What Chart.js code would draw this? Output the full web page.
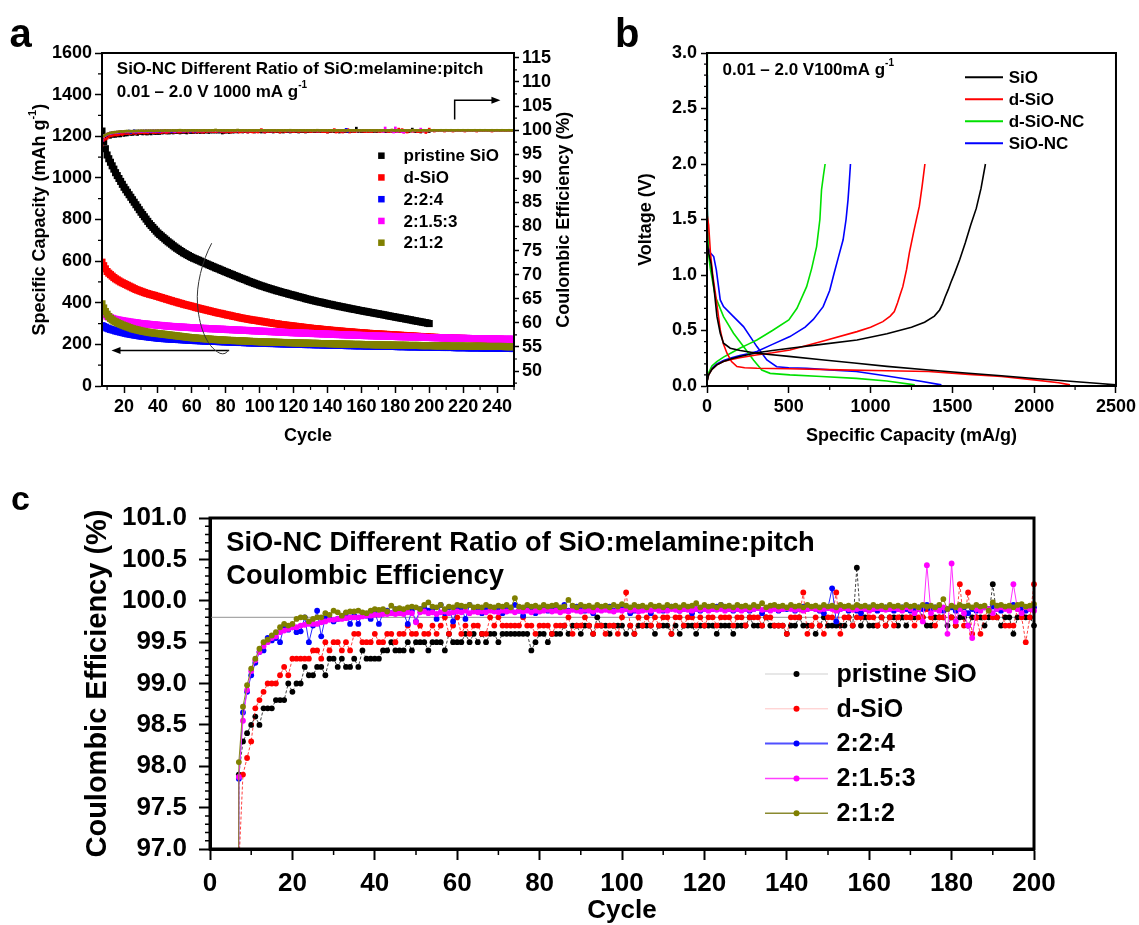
<!DOCTYPE html>
<html>
<head>
<meta charset="utf-8">
<script src="https://cdn.jsdelivr.net/npm/chart.js@4.4.1/dist/chart.umd.min.js"></script>
<style>
  html, body { margin: 0; padding: 0; background: #fff; }
  body { width: 1139px; height: 925px; position: relative; overflow: hidden; }
  canvas { position: absolute; }
  #chartA { left: 0; top: 0; }
  #chartB { left: 578px; top: 0; }
  #chartC { left: 0; top: 460px; }
</style>
</head>
<body>
<canvas id="chartA" width="578" height="452"></canvas>
<canvas id="chartB" width="561" height="452"></canvas>
<canvas id="chartC" width="1139" height="465"></canvas>
<script>
// ---------- data ----------
const seriesNames = ['pristine SiO', 'd-SiO', '2:2:4', '2:1.5:3', '2:1:2'];

// specific capacity (mAh/g), one value per cycle, first value = cycle 7
const capFirstCycle = 7;
const capBlack = [
  1225, 1175, 1140, 1110, 1092, 1075, 1058, 1042, 1025, 1011,
  997, 983, 969, 955, 943, 931, 919, 907, 895, 883,
  871, 859, 847, 835, 824, 813, 802, 791, 780, 771,
  762, 753, 744, 735, 728, 721, 714, 707, 700, 693,
  687, 681, 674, 668, 662, 657, 651, 646, 640, 636,
  631, 627, 622, 618, 614, 611, 607, 604, 600, 596,
  593, 589, 586, 582, 579, 575, 572, 568, 565, 562,
  558, 555, 551, 548, 545, 541, 538, 535, 531, 528,
  525, 521, 518, 515, 512, 509, 505, 502, 499, 496,
  493, 490, 487, 484, 481, 479, 476, 473, 471, 468,
  466, 463, 461, 458, 456, 454, 451, 449, 447, 445,
  442, 440, 438, 436, 434, 431, 429, 427, 425, 423,
  420, 418, 416, 414, 412, 410, 408, 406, 404, 403,
  401, 399, 397, 395, 393, 392, 390, 388, 386, 385,
  383, 381, 380, 378, 376, 375, 373, 371, 370, 368,
  367, 365, 363, 362, 360, 359, 357, 356, 354, 353,
  351, 350, 348, 347, 345, 344, 342, 341, 339, 337,
  336, 334, 333, 331, 330, 328, 327, 325, 324, 322,
  321, 319, 318, 316, 314, 313, 311, 310, 308, 307,
  305, 304, 302, 300
];
const capRed = [
  595, 578, 563, 550, 542, 535, 528, 521, 515, 510,
  505, 500, 496, 492, 488, 484, 480, 476, 472, 468,
  464, 461, 458, 455, 452, 449, 446, 444, 441, 439,
  437, 435, 432, 430, 427, 425, 422, 420, 417, 415,
  412, 410, 407, 405, 403, 400, 398, 396, 393, 391,
  389, 387, 385, 383, 381, 378, 376, 374, 372, 370,
  368, 366, 364, 362, 360, 358, 356, 354, 352, 350,
  349, 347, 345, 343, 341, 340, 338, 336, 334, 333,
  331, 329, 327, 326, 324, 323, 321, 320, 318, 317,
  316, 315, 313, 312, 311, 309, 308, 307, 305, 304,
  303, 301, 300, 299, 298, 296, 295, 294, 293, 292,
  291, 290, 289, 288, 287, 286, 285, 284, 283, 282,
  281, 280, 279, 278, 277, 276, 275, 275, 274, 273,
  272, 271, 270, 270, 269, 268, 267, 267, 266, 265,
  264, 264, 263, 262, 262, 261, 260, 260, 259, 258,
  258, 257, 256, 256, 255, 255, 254, 253, 253, 252,
  252, 251, 251, 250, 250, 249, 249, 248, 248, 247,
  247, 246, 246, 245, 245, 244, 244, 243, 243, 242,
  242, 241, 241, 240, 240, 239, 239, 238, 238, 237,
  237, 236, 236, 235, 235, 234, 234, 234, 233, 233,
  233, 232, 232, 232, 231, 231, 231, 230, 230, 230,
  229, 229, 229, 229, 228, 228, 228, 228, 227, 227,
  227, 227, 226, 226, 226, 226, 226, 225, 225, 225,
  225, 225, 224, 224, 224, 224, 224, 223, 223, 223,
  223, 223, 222, 222
];
const capBlue = [
  290, 286, 282, 278, 275, 272, 270, 268, 265, 263,
  261, 259, 257, 255, 253, 251, 250, 248, 247, 245,
  244, 243, 241, 240, 239, 238, 237, 236, 235, 234,
  233, 232, 231, 230, 229, 229, 228, 227, 227, 226,
  226, 225, 225, 224, 224, 223, 223, 222, 222, 221,
  221, 220, 220, 219, 219, 218, 218, 218, 217, 217,
  216, 216, 216, 215, 215, 215, 214, 214, 214, 213,
  213, 213, 212, 212, 212, 211, 211, 211, 210, 210,
  210, 209, 209, 209, 208, 208, 208, 207, 207, 207,
  207, 206, 206, 206, 206, 205, 205, 205, 205, 204,
  204, 204, 204, 203, 203, 203, 203, 202, 202, 202,
  202, 201, 201, 201, 201, 200, 200, 200, 200, 200,
  199, 199, 199, 199, 199, 198, 198, 198, 198, 198,
  197, 197, 197, 197, 196, 196, 196, 196, 196, 195,
  195, 195, 195, 195, 194, 194, 194, 194, 194, 193,
  193, 193, 193, 193, 193, 192, 192, 192, 192, 192,
  191, 191, 191, 191, 191, 191, 190, 190, 190, 190,
  190, 190, 190, 190, 189, 189, 189, 189, 189, 189,
  188, 188, 188, 188, 188, 188, 188, 187, 187, 187,
  187, 187, 187, 187, 186, 186, 186, 186, 186, 186,
  186, 185, 185, 185, 185, 185, 185, 185, 184, 184,
  184, 184, 184, 184, 184, 184, 183, 183, 183, 183,
  183, 183, 183, 183, 182, 182, 182, 182, 182, 182,
  182, 182, 182, 181, 181, 181, 181, 181, 181, 181,
  181, 181, 180, 180
];
const capMagenta = [
  365, 350, 342, 335, 331, 328, 325, 322, 320, 318,
  317, 315, 314, 312, 311, 310, 308, 307, 306, 305,
  304, 303, 301, 300, 299, 298, 298, 297, 296, 295,
  294, 294, 293, 292, 291, 291, 290, 289, 288, 288,
  287, 286, 286, 285, 285, 284, 284, 283, 283, 282,
  282, 281, 281, 280, 280, 279, 279, 278, 278, 277,
  277, 277, 276, 276, 275, 275, 275, 274, 274, 273,
  273, 273, 272, 272, 271, 271, 271, 270, 270, 269,
  269, 269, 268, 268, 267, 267, 267, 266, 266, 265,
  265, 265, 264, 264, 263, 263, 263, 262, 262, 261,
  261, 261, 260, 260, 259, 259, 259, 258, 258, 257,
  257, 257, 256, 256, 256, 255, 255, 255, 254, 254,
  254, 253, 253, 253, 252, 252, 252, 251, 251, 251,
  250, 250, 250, 249, 249, 249, 248, 248, 248, 247,
  247, 247, 246, 246, 246, 245, 245, 245, 245, 244,
  244, 244, 243, 243, 243, 242, 242, 242, 242, 241,
  241, 241, 240, 240, 240, 240, 239, 239, 239, 239,
  238, 238, 238, 238, 237, 237, 237, 237, 236, 236,
  236, 236, 235, 235, 235, 235, 235, 234, 234, 234,
  234, 233, 233, 233, 233, 232, 232, 232, 232, 232,
  231, 231, 231, 231, 231, 230, 230, 230, 230, 230,
  230, 229, 229, 229, 229, 229, 229, 228, 228, 228,
  228, 228, 228, 227, 227, 227, 227, 227, 227, 226,
  226, 226, 226, 226, 226, 226, 225, 225, 225, 225,
  225, 225, 225, 224
];
const capOlive = [
  395, 375, 358, 345, 334, 325, 318, 312, 308, 304,
  300, 297, 293, 290, 287, 284, 281, 278, 275, 273,
  271, 269, 267, 265, 263, 262, 260, 259, 257, 256,
  255, 254, 253, 252, 251, 250, 249, 248, 247, 246,
  245, 244, 243, 242, 241, 240, 239, 238, 237, 236,
  235, 234, 233, 232, 231, 231, 230, 229, 229, 228,
  227, 227, 226, 226, 225, 224, 224, 223, 223, 222,
  222, 221, 221, 220, 220, 219, 219, 219, 218, 218,
  218, 217, 217, 217, 216, 216, 215, 215, 214, 214,
  214, 213, 213, 213, 212, 212, 212, 212, 211, 211,
  211, 211, 210, 210, 210, 210, 209, 209, 209, 209,
  208, 208, 208, 208, 207, 207, 207, 207, 206, 206,
  206, 206, 206, 205, 205, 205, 205, 205, 204, 204,
  204, 204, 204, 204, 203, 203, 203, 203, 202, 202,
  202, 202, 202, 201, 201, 201, 201, 201, 200, 200,
  200, 200, 200, 200, 199, 199, 199, 199, 199, 199,
  198, 198, 198, 198, 198, 198, 197, 197, 197, 197,
  197, 197, 197, 196, 196, 196, 196, 196, 196, 196,
  195, 195, 195, 195, 195, 195, 195, 195, 194, 194,
  194, 194, 194, 194, 194, 194, 193, 193, 193, 193,
  193, 193, 193, 193, 193, 192, 192, 192, 192, 192,
  192, 192, 192, 192, 192, 191, 191, 191, 191, 191,
  191, 191, 191, 191, 191, 191, 190, 190, 190, 190,
  190, 190, 190, 190, 190, 190, 190, 190, 189, 189,
  189, 189, 189, 189
];

// coulombic efficiency (%), one value per cycle, first value = cycle 6
const ceFirstCycle = 6;
const ceBlack = [
  75, 97.9, 98.3, 98.4, 98.5, 98.6, 98.5, 98.7, 98.7, 98.7,
  98.8, 98.8, 98.8, 99.0, 98.9, 99.0, 99.0, 99.2, 99.1, 99.1,
  99.2, 99.2, 99.1, 99.3, 99.3, 99.2, 99.3, 99.2, 99.2, 99.3,
  99.2, 99.4, 99.3, 99.3, 99.3, 99.3, 99.4, 99.4, 99.5, 99.4,
  99.4, 99.4, 99.5, 99.4, 99.5, 99.5, 99.5, 99.4, 99.5, 99.5,
  99.5, 99.4, 99.6, 99.5, 99.5, 99.5, 99.6, 99.5, 99.6, 99.5,
  99.6, 99.5, 99.6, 99.6, 99.5, 99.6, 99.6, 99.6, 99.6, 99.6,
  99.6, 99.6, 99.4, 99.5, 99.6, 99.6, 99.5, 99.6, 99.6, 99.6,
  99.7, 99.6, 99.7, 99.7, 99.6, 99.7, 99.7, 99.6, 99.8, 99.7,
  99.7, 99.6, 99.7, 99.7, 99.7, 99.6, 99.7, 99.6, 99.7, 99.7,
  99.7, 99.7, 99.6, 99.7, 99.7, 99.7, 99.6, 99.7, 99.6, 99.7,
  99.7, 99.7, 99.6, 99.7, 99.7, 99.7, 99.7, 99.6, 99.7, 99.7,
  99.7, 99.6, 99.7, 99.7, 99.7, 99.8, 99.7, 99.7, 99.7, 99.8,
  99.7, 99.7, 99.7, 99.7, 99.6, 99.7, 99.7, 99.8, 99.7, 99.7,
  99.7, 99.6, 99.7, 99.8, 99.7, 99.7, 99.7, 99.7, 99.7, 99.8,
  99.7, 100.4, 99.7, 99.8, 99.7, 99.7, 99.7, 99.8, 99.7, 99.8,
  99.8, 99.7, 99.8, 99.7, 99.8, 99.8, 99.9, 99.8, 99.7, 99.7,
  99.8, 99.8, 99.8, 99.7, 99.8, 99.7, 99.8, 99.8, 99.7, 99.8,
  99.8, 99.8, 99.7, 99.8, 100.2, 99.8, 99.7, 99.8, 99.8, 99.6,
  99.8, 99.9, 99.8, 99.8, 99.7
];
const ceRed = [
  75, 96.8, 97.9, 98.1, 98.3, 98.7, 98.8, 98.9, 99.0, 99.0,
  99.0, 99.1, 99.2, 99.1, 99.3, 99.3, 99.3, 99.3, 99.3, 99.4,
  99.4, 99.3, 99.5, 99.4, 99.5, 99.5, 99.4, 99.5, 99.4, 99.6,
  99.6, 99.5, 99.5, 99.5, 99.6, 99.5, 99.5, 99.6, 99.6, 99.5,
  99.6, 99.6, 99.7, 99.6, 99.6, 99.7, 99.6, 99.6, 99.7, 99.6,
  99.7, 99.8, 99.6, 99.7, 99.8, 99.6, 99.7, 99.6, 99.7, 99.7,
  99.6, 99.6, 99.8, 99.7, 99.8, 99.7, 99.7, 99.7, 99.7, 99.7,
  99.8, 99.7, 99.7, 99.6, 99.7, 99.7, 99.7, 99.6, 99.7, 99.7,
  99.7, 99.8, 99.6, 99.7, 99.7, 99.8, 99.7, 99.6, 99.7, 99.7,
  99.6, 99.7, 99.7, 99.6, 99.8, 100.1, 99.7, 99.6, 99.8, 99.7,
  99.8, 99.7, 99.8, 99.7, 99.8, 99.8, 99.6, 99.8, 99.8, 99.7,
  99.8, 99.8, 99.7, 99.8, 99.7, 99.8, 99.8, 99.7, 99.8, 99.8,
  99.8, 99.7, 99.8, 99.8, 99.7, 99.8, 99.8, 99.8, 99.7, 99.8,
  99.8, 99.7, 99.7, 99.7, 99.6, 99.8, 99.8, 99.8, 100.1, 99.6,
  99.7, 99.8, 99.7, 99.6, 99.8, 99.8, 100.1, 99.6, 99.8, 99.8,
  99.7, 99.8, 99.8, 99.9, 99.8, 99.8, 99.7, 99.8, 99.7, 99.8,
  99.7, 99.8, 99.9, 99.8, 99.8, 99.7, 99.8, 99.8, 99.9, 99.8,
  99.7, 99.8, 99.8, 99.9, 99.8, 99.7, 100.2, 99.7, 100.1, 99.6,
  99.8, 99.6, 99.8, 99.9, 99.8, 99.8, 99.9, 99.7, 99.7, 99.7,
  99.9, 99.8, 99.5, 99.8, 100.2, 99.9, 99.9, 99.8, 99.9, 99.9,
  99.9, 99.9, 99.9, 99.8, 99.9, 99.9, 99.9, 99.9, 99.8, 99.9,
  99.9, 99.9, 99.9, 99.9, 99.9, 99.8, 99.9, 99.9, 99.9, 99.9,
  99.9, 99.9, 99.8, 99.9, 99.9, 99.9, 99.9, 99.9, 99.9, 99.9,
  99.9, 99.8, 99.9, 99.9, 99.9, 99.9, 99.9, 99.9, 99.9, 99.9,
  99.9, 99.9, 99.9, 99.9, 99.9
];
const ceBlue = [
  75, 97.85, 98.65, 98.9, 99.1, 99.25, 99.38, 99.4, 99.55, 99.52,
  99.55, 99.5, 99.7, 99.65, 99.68, 99.62, 99.63, 99.8, 99.5, 99.7,
  99.88, 99.57, 99.8, 99.78, 99.75, 99.78, 99.8, 99.85, 99.72, 99.82,
  99.72, 99.85, 99.82, 99.78, 99.85, 99.72, 99.85, 99.88, 99.85, 99.9,
  99.88, 99.85, 99.72, 99.88, 99.75, 99.9, 99.92, 99.88, 99.9, 99.78,
  99.95, 99.85, 99.92, 99.75, 99.9, 99.92, 99.78, 99.95, 99.88, 99.9,
  99.85, 99.9, 99.92, 99.88, 99.9, 99.85, 99.92, 99.9, 99.95, 99.88,
  99.82, 99.9, 99.92, 99.85, 99.9, 99.93, 99.88, 99.9, 99.92, 99.9,
  99.95, 99.88, 99.9, 99.93, 99.92, 99.88, 99.9, 99.85, 99.92, 99.9,
  99.9, 99.93, 99.88, 99.9, 99.92, 99.9, 99.85, 99.88, 99.9, 99.92,
  99.9, 99.85, 99.92, 99.9, 99.88, 99.9, 99.93, 99.9, 99.88, 99.9,
  99.92, 99.85, 99.9, 99.88, 99.9, 99.92, 99.9, 99.93, 99.95, 99.9,
  99.9, 99.88, 99.9, 99.92, 99.9, 99.88, 99.9, 99.92, 99.85, 99.9,
  99.9, 99.92, 99.88, 99.9, 99.9, 99.92, 99.88, 99.9, 99.93, 99.9,
  99.92, 99.9, 99.88, 99.85, 99.92, 100.15, 99.75, 99.9, 99.92, 99.88,
  99.9, 99.88, 99.85, 99.9, 99.92, 99.9, 99.88, 99.9, 99.92, 99.9,
  99.88, 99.9, 99.92, 99.9, 99.88, 99.9, 99.92, 99.9, 99.95, 99.9,
  99.92, 99.9, 99.88, 99.9, 99.92, 99.88, 99.9, 99.92, 99.85, 99.9,
  99.88, 99.9, 99.92, 99.9, 99.93, 99.9, 99.88, 99.92, 99.9, 99.95,
  99.92, 99.9, 99.88, 99.9, 99.92, 99.9, 99.9, 99.92, 99.9, 99.9,
  99.92, 99.9, 99.9, 99.92, 99.9, 99.9, 99.92, 99.9, 99.9, 99.92,
  99.9, 99.9, 99.92, 99.9, 99.9, 99.92, 99.9, 99.9, 99.92, 99.9,
  99.9, 99.92, 99.9, 99.9, 99.92, 99.9, 99.9, 99.92, 99.9, 99.9,
  99.92, 99.9, 99.9, 99.92, 99.9, 99.9, 99.92, 99.9, 99.9, 99.92,
  99.9, 99.9, 99.92, 99.9, 99.9
];
const ceMagenta = [
  75, 97.87, 98.55, 98.92, 99.15, 99.28, 99.38, 99.45, 99.5, 99.55,
  99.57, 99.62, 99.64, 99.66, 99.68, 99.68, 99.7, 99.71, 99.72, 99.72,
  99.72, 99.74, 99.75, 99.77, 99.77, 99.78, 99.78, 99.79, 99.8, 99.8,
  99.8, 99.81, 99.82, 99.82, 99.83, 99.83, 99.84, 99.84, 99.85, 99.84,
  99.85, 99.84, 99.86, 99.85, 99.74, 99.86, 99.87, 99.85, 99.86, 99.84,
  99.86, 99.87, 99.85, 99.86, 99.87, 99.86, 99.88, 99.85, 99.87, 99.86,
  99.87, 99.86, 99.88, 99.87, 99.86, 99.88, 99.87, 99.88, 99.86, 99.88,
  99.87, 99.88, 99.86, 99.88, 99.87, 99.88, 99.89, 99.87, 99.88, 99.86,
  99.88, 99.87, 99.89, 99.88, 99.87, 99.89, 99.88, 99.87, 99.89, 99.88,
  99.89, 99.88, 99.87, 99.89, 99.88, 99.9, 99.88, 99.89, 99.87, 99.88,
  99.89, 99.88, 99.9, 99.88, 99.89, 99.88, 99.9, 99.89, 99.88, 99.9,
  99.89, 99.88, 99.9, 99.89, 99.9, 99.88, 99.9, 99.89, 99.9, 99.88,
  99.9, 99.89, 99.9, 99.88, 99.9, 99.89, 99.9, 99.91, 99.89, 99.9,
  99.88, 99.9, 99.89, 99.9, 99.91, 99.9, 99.89, 99.9, 99.88, 99.9,
  99.91, 99.9, 99.89, 99.9, 99.91, 99.9, 99.88, 99.9, 99.91, 99.9,
  99.89, 99.9, 99.91, 99.9, 99.88, 99.9, 99.91, 99.9, 99.89, 99.9,
  99.91, 99.9, 99.88, 99.92, 99.9, 99.85, 99.9, 99.75, 100.43, 99.85,
  99.9, 99.88, 99.92, 99.6, 100.45, 99.75, 99.9, 99.85, 99.7, 99.55,
  99.9, 99.88, 99.92, 99.9, 99.85, 99.9, 99.92, 99.9, 99.88, 100.2,
  99.9, 99.85, 99.92, 99.9, 99.88, 99.9, 99.91, 99.9, 99.88, 99.9,
  99.91, 99.9, 99.89, 99.9, 99.91, 99.9, 99.88, 99.9, 99.91, 99.9,
  99.89, 99.9, 99.91, 99.9, 99.88, 99.9, 99.91, 99.9, 99.89, 99.9,
  99.91, 99.9, 99.88, 99.9, 99.91, 99.9, 99.89, 99.9, 99.91, 99.9,
  99.88, 99.9, 99.91, 99.9, 99.89, 99.9, 99.91, 99.9, 99.88, 99.9,
  99.91, 99.9, 99.89, 99.9, 99.91
];
const ceOlive = [
  75, 98.05, 98.72, 98.98, 99.18, 99.3, 99.42, 99.5, 99.53, 99.58,
  99.62, 99.68, 99.72, 99.7, 99.72, 99.78, 99.8, 99.8, 99.75, 99.78,
  99.8, 99.8, 99.85, 99.83, 99.88, 99.86, 99.82, 99.86, 99.87, 99.87,
  99.88, 99.86, 99.85, 99.88, 99.9, 99.89, 99.9, 99.87, 99.94, 99.9,
  99.91, 99.9, 99.92, 99.93, 99.92, 99.9, 99.95, 99.98, 99.93, 99.92,
  99.95, 99.9, 99.93, 99.92, 99.95, 99.94, 99.93, 99.95, 99.92, 99.93,
  99.92, 99.95, 99.93, 99.92, 99.94, 99.93, 99.95, 99.92, 100.03, 99.93,
  99.92, 99.95, 99.93, 99.94, 99.92, 99.95, 99.93, 99.94, 99.95, 99.92,
  99.93, 100.01, 99.94, 99.92, 99.95, 99.93, 99.94, 99.92, 99.95, 99.93,
  99.94, 99.92, 99.95, 99.93, 99.96, 99.94, 99.92, 99.95, 99.93, 99.94,
  99.92, 99.95, 99.93, 99.94, 99.92, 99.95, 99.93, 99.94, 99.92, 99.95,
  99.93, 99.94, 99.97, 99.92, 99.95, 99.93, 99.94, 99.92, 99.95, 99.93,
  99.94, 99.92, 99.95, 99.93, 99.94, 99.92, 99.95, 99.93, 99.97, 99.92,
  99.94, 99.95, 99.93, 99.94, 99.92, 99.95, 99.93, 99.94, 99.92, 99.95,
  99.93, 99.94, 99.92, 99.95, 99.93, 99.94, 99.92, 99.95, 99.93, 99.94,
  99.92, 99.95, 99.93, 99.94, 99.92, 99.95, 99.93, 99.94, 99.92, 99.95,
  99.93, 99.94, 99.92, 99.95, 99.93, 99.94, 99.92, 99.95, 99.93, 99.94,
  99.92, 99.95, 100.02, 99.9, 99.94, 99.92, 99.95, 99.93, 99.94, 99.92,
  99.95, 99.93, 99.94, 99.88, 99.98, 99.94, 99.95, 99.93, 99.94, 99.92,
  99.95, 99.96, 99.93, 99.94, 99.96, 99.95, 99.94, 99.96, 99.95, 99.94,
  99.95, 99.96, 99.94, 99.95, 99.96, 99.95, 99.94, 99.96, 99.95, 99.94,
  99.95, 99.96, 99.94, 99.95, 99.96, 99.95, 99.94, 99.96, 99.95, 99.94,
  99.95, 99.96, 99.94, 99.95, 99.96, 99.95, 99.94, 99.96, 99.95, 99.94,
  99.95, 99.96, 99.94, 99.95, 99.96, 99.95, 99.94, 99.96, 99.95, 99.94,
  99.95, 99.96, 99.94, 99.95, 99.96
];

// panel b: first discharge / charge profiles (capacity mA/g, voltage V)
const materialsB = ['SiO', 'd-SiO', 'd-SiO-NC', 'SiO-NC'];
const sioDisCap = [0, 10, 25, 45, 61, 81, 101, 142, 203, 305, 500, 700, 900, 1100, 1354, 1600, 1800, 2000, 2200, 2400, 2500];
const sioDisV   = [1.3, 1.2, 1.1, 0.85, 0.625, 0.475, 0.385, 0.34, 0.32, 0.295, 0.267, 0.237, 0.207, 0.177, 0.144, 0.115, 0.092, 0.068, 0.045, 0.022, 0.01];
const sioChgCap = [0, 10, 30, 60, 100, 150, 200, 305, 400, 507, 700, 917, 1100, 1250, 1330, 1390, 1422, 1440, 1455, 1475, 1490, 1512, 1545, 1579, 1612, 1646, 1675, 1702];
const sioChgV   = [0.04, 0.1, 0.15, 0.19, 0.22, 0.245, 0.265, 0.3, 0.32, 0.34, 0.375, 0.415, 0.47, 0.53, 0.575, 0.63, 0.685, 0.74, 0.8, 0.87, 0.93, 1.01, 1.14, 1.29, 1.45, 1.6, 1.78, 2.0];
const dsioDisCap = [0, 10, 21, 35, 51, 81, 100, 122, 150, 183, 230, 305, 500, 811, 1100, 1354, 1600, 1800, 2000, 2150, 2219];
const dsioDisV   = [1.55, 1.45, 1.2, 1.0, 0.84, 0.505, 0.38, 0.295, 0.22, 0.175, 0.165, 0.16, 0.155, 0.145, 0.138, 0.13, 0.105, 0.085, 0.055, 0.03, 0.01];
const dsioChgCap = [0, 10, 30, 60, 100, 150, 200, 300, 400, 507, 700, 917, 1000, 1075, 1120, 1145, 1165, 1180, 1197, 1220, 1237, 1265, 1298, 1315, 1332];
const dsioChgV   = [0.04, 0.1, 0.15, 0.19, 0.22, 0.24, 0.255, 0.28, 0.3, 0.325, 0.4, 0.49, 0.53, 0.58, 0.63, 0.67, 0.75, 0.82, 0.895, 1.05, 1.2, 1.4, 1.62, 1.8, 2.0];
const dncDisCap = [0, 1, 3, 8, 21, 51, 101, 162, 223, 284, 335, 386, 507, 700, 913, 1100, 1270];
const dncDisV   = [3.0, 2.5, 1.6, 1.2, 1.05, 0.805, 0.625, 0.475, 0.355, 0.234, 0.144, 0.114, 0.1, 0.085, 0.069, 0.045, 0.01];
const dncChgCap = [0, 10, 30, 60, 101, 150, 200, 250, 305, 400, 500, 550, 609, 640, 670, 690, 700, 712, 722];
const dncChgV   = [0.04, 0.12, 0.18, 0.22, 0.26, 0.3, 0.34, 0.375, 0.415, 0.5, 0.595, 0.7, 0.895, 1.06, 1.256, 1.5, 1.767, 1.9, 2.0];
const sncDisCap = [0, 1, 3, 8, 20, 41, 57, 81, 101, 162, 223, 305, 366, 426, 500, 609, 750, 913, 1100, 1298, 1433];
const sncDisV   = [2.8, 2.3, 1.6, 1.25, 1.2, 1.166, 1.046, 0.775, 0.715, 0.625, 0.535, 0.355, 0.234, 0.174, 0.165, 0.16, 0.145, 0.13, 0.09, 0.045, 0.01];
const sncChgCap = [0, 10, 30, 60, 101, 150, 200, 250, 305, 400, 507, 600, 650, 710, 750, 777, 805, 832, 850, 862, 870, 877];
const sncChgV   = [0.04, 0.11, 0.16, 0.2, 0.23, 0.255, 0.275, 0.29, 0.31, 0.375, 0.445, 0.53, 0.6, 0.715, 0.86, 1.016, 1.17, 1.317, 1.5, 1.677, 1.84, 2.0];

// tick labels
const capTicksA = [0, 200, 400, 600, 800, 1000, 1200, 1400, 1600];
const ceTicksA = [50, 55, 60, 65, 70, 75, 80, 85, 90, 95, 100, 105, 110, 115];
const cycleTicksA = [20, 40, 60, 80, 100, 120, 140, 160, 180, 200, 220, 240];
const voltTicksB = [0, 0.5, 1.0, 1.5, 2.0, 2.5, 3.0];
const capTicksB = [0, 500, 1000, 1500, 2000, 2500];
const ceTicksC = [97, 97.5, 98, 98.5, 99, 99.5, 100, 100.5, 101];
const cycleTicksC = [0, 20, 40, 60, 80, 100, 120, 140, 160, 180, 200];

// ---------- style ----------
const FONT = '"Liberation Sans", Arial, Helvetica, sans-serif';
const seriesColors = ['#000000', '#ff0000', '#0000ff', '#ff00ff', '#808000'];
const lineColorsC = ['rgba(0,0,0,0.75)', 'rgba(255,0,0,0.75)', '#2a2aff', '#ff30ff', '#8a8a20'];
const legendLineC = ['#cfcfcf', '#ffc4c4', '#5050ff', '#ff40ff', '#8a8a30'];
const colorsB = ['#000000', '#ff0000', '#00e000', '#0000ff'];

Chart.defaults.font.family = FONT;
Chart.defaults.font.weight = 'bold';
Chart.defaults.color = '#000';

const toXY = (first, vals) => vals.map((v, i) => ({ x: first + i, y: v }));
const pairs = (xs, ys) => xs.map((v, i) => ({ x: v, y: ys[i] }));

function axis(o) {
  return {
    type: 'linear', min: o.min, max: o.max, position: o.pos,
    afterBuildTicks: s => { s.ticks = o.ticks.map(v => ({ value: v })); },
    afterFit: s => { if (o.pos === 'bottom') s.height = o.size; else s.width = o.size; },
    ticks: { autoSkip: false, maxRotation: 0, padding: o.pad, color: '#000',
      font: { size: o.font, weight: 'bold' }, callback: o.fmt || (v => v) },
    grid: { display: true, drawOnChartArea: false, drawTicks: true,
      tickLength: o.tl, tickWidth: o.tw, tickColor: '#000' },
    border: { display: true, color: '#000', width: o.bw },
    title: o.title
      ? { display: true, text: o.title, color: '#000', padding: o.tpad,
          font: { size: o.tfont, weight: 'bold', lineHeight: o.tlh || 1.2 } }
      : { display: false }
  };
}

// ---------- small drawing plugins ----------
function framePlugin(width) {
  return { id: 'frame', afterDraw(chart) {
    const { ctx, chartArea: a } = chart;
    ctx.save(); ctx.strokeStyle = '#000'; ctx.lineWidth = width;
    ctx.strokeRect(a.left, a.top, a.right - a.left, a.bottom - a.top);
    ctx.restore();
  } };
}

function minorTicksPlugin(cfg) {
  return { id: 'minorTicks', afterDraw(chart) {
    const ctx = chart.ctx;
    ctx.save(); ctx.strokeStyle = '#000';
    for (const id in cfg) {
      const s = chart.scales[id], c = cfg[id];
      const majors = s.ticks.map(t => t.value);
      ctx.lineWidth = c.width; ctx.beginPath();
      for (let k = Math.ceil(s.min / c.step - 1e-6); k * c.step <= s.max + 1e-6; k++) {
        const v = k * c.step;
        if (majors.some(m => Math.abs(m - v) < c.step * 0.01)) continue;
        const p = s.getPixelForValue(v);
        if (s.position === 'left') { ctx.moveTo(s.right, p); ctx.lineTo(s.right - c.len, p); }
        else if (s.position === 'right') { ctx.moveTo(s.left, p); ctx.lineTo(s.left + c.len, p); }
        else { ctx.moveTo(p, s.top); ctx.lineTo(p, s.top + c.len); }
      }
      ctx.stroke();
    }
    ctx.restore();
  } };
}

// rich text: parts = [[text, isSup], ...]
function textPlugin(items) {
  return { id: 'texts', afterDraw(chart) {
    const ctx = chart.ctx;
    items.forEach(it => {
      ctx.save();
      ctx.translate(it.x, it.y);
      if (it.rotate) ctx.rotate(it.rotate * Math.PI / 180);
      ctx.fillStyle = '#000';
      ctx.textBaseline = it.baseline || 'middle';
      ctx.textAlign = 'left';
      const main = `bold ${it.size}px ${FONT}`, sup = `bold ${Math.round(it.size * 0.6)}px ${FONT}`;
      let total = 0;
      it.parts.forEach(([t, s]) => { ctx.font = s ? sup : main; total += ctx.measureText(t).width; });
      let x = it.align === 'center' ? -total / 2 : 0;
      it.parts.forEach(([t, s]) => {
        ctx.font = s ? sup : main;
        ctx.fillText(t, x, s ? -it.size * 0.38 : 0);
        x += ctx.measureText(t).width;
      });
      ctx.restore();
    });
  } };
}

function legendPlugin(cfg) {
  return { id: 'legendBox', afterDraw(chart) {
    const ctx = chart.ctx;
    ctx.save();
    ctx.font = `bold ${cfg.size}px ${FONT}`;
    ctx.textBaseline = 'middle';
    cfg.labels.forEach((label, i) => {
      const y = cfg.y0 + i * cfg.dy;
      if (cfg.box) {
        ctx.fillStyle = cfg.colors[i];
        ctx.fillRect(cfg.xm - cfg.box / 2, y - cfg.box / 2, cfg.box, cfg.box);
      } else {
        ctx.strokeStyle = cfg.lines[i]; ctx.lineWidth = cfg.lw ? cfg.lw[i] : 2;
        ctx.beginPath(); ctx.moveTo(cfg.x0, y); ctx.lineTo(cfg.x1, y); ctx.stroke();
        if (cfg.dot) {
          ctx.fillStyle = cfg.colors[i];
          ctx.beginPath(); ctx.arc(cfg.xm, y, cfg.dot, 0, 2 * Math.PI); ctx.fill();
        }
      }
      ctx.fillStyle = '#000';
      ctx.fillText(label, cfg.xt, y + 1);
    });
    ctx.restore();
  } };
}

function arrowHead(ctx, x, y, dir) {
  ctx.beginPath();
  ctx.moveTo(x, y); ctx.lineTo(x - dir * 9, y - 3.5); ctx.lineTo(x - dir * 9, y + 3.5);
  ctx.closePath(); ctx.fill();
}

const arrowsA = { id: 'arrowsA', afterDatasetsDraw(chart) {
  const { ctx } = chart; const { x, y, y1 } = chart.scales;
  ctx.save(); ctx.strokeStyle = '#000'; ctx.fillStyle = '#000'; ctx.lineWidth = 1.5;
  // points to the CE axis
  const ax = x.getPixelForValue(215), ax2 = x.getPixelForValue(242);
  const ay0 = y1.getPixelForValue(102.2), ay1 = y1.getPixelForValue(106.2);
  ctx.beginPath(); ctx.moveTo(ax, ay0); ctx.lineTo(ax, ay1); ctx.lineTo(ax2 - 6, ay1); ctx.stroke();
  arrowHead(ctx, ax2, ay1, 1);
  // points to the capacity axis
  const bx0 = x.getPixelForValue(82), bx1 = x.getPixelForValue(12.6), by = y.getPixelForValue(170);
  ctx.beginPath(); ctx.moveTo(bx0, by); ctx.lineTo(bx1 + 6, by); ctx.stroke();
  arrowHead(ctx, bx1, by, -1);
  // curved bracket
  const P = (cx, cy) => [x.getPixelForValue(cx), y.getPixelForValue(cy)];
  ctx.lineWidth = 1; ctx.strokeStyle = '#333';
  ctx.beginPath();
  ctx.moveTo(...P(71.7, 686));
  ctx.bezierCurveTo(...P(66, 600), ...P(62.5, 480), ...P(63.3, 398));
  ctx.bezierCurveTo(...P(64, 300), ...P(68, 190), ...P(76.6, 157));
  ctx.quadraticCurveTo(...P(80, 148), ...P(81.5, 173));
  ctx.stroke();
  ctx.restore();
} };

const refLineC = { id: 'refLineC', beforeDatasetsDraw(chart) {
  const { ctx, chartArea: a } = chart; const yy = chart.scales.y.getPixelForValue(99.8);
  ctx.save(); ctx.strokeStyle = '#a8a8a8'; ctx.lineWidth = 1.2;
  ctx.beginPath(); ctx.moveTo(a.left, yy); ctx.lineTo(a.right, yy); ctx.stroke();
  ctx.restore();
} };

// ---------- panel a ----------
const capSets = [capBlack, capRed, capBlue, capMagenta, capOlive];
const ceSets = [ceBlack, ceRed, ceBlue, ceMagenta, ceOlive];
const dsA = [];
capSets.forEach((vals, i) => dsA.push({
  label: seriesNames[i], data: toXY(capFirstCycle, vals), yAxisID: 'y', showLine: false,
  pointStyle: 'rect', pointRadius: 5, pointBorderWidth: 0,
  backgroundColor: seriesColors[i], borderColor: seriesColors[i], order: 9 - i
}));
ceSets.forEach((vals, i) => dsA.push({
  label: seriesNames[i] + ' CE', data: toXY(ceFirstCycle, vals).filter(p => p.x >= 7), yAxisID: 'y1', showLine: false,
  pointStyle: 'rect', pointRadius: 1.9, pointBorderWidth: 0,
  backgroundColor: seriesColors[i], borderColor: seriesColors[i], order: 4 - i
}));

new Chart(document.getElementById('chartA'), {
  type: 'scatter',
  data: { datasets: dsA },
  options: {
    responsive: false, animation: false, events: [],
    layout: { padding: { top: 53, left: 0, right: 0, bottom: 0 } },
    plugins: { legend: { display: false }, tooltip: { enabled: false } },
    scales: {
      x: axis({ min: 7, max: 250, pos: 'bottom', ticks: cycleTicksA, size: 66, pad: 3, font: 18, tl: 7, tw: 1.5, bw: 2,
        title: 'Cycle', tfont: 18, tpad: { top: 0, bottom: 5 } }),
      y: axis({ min: 0, max: 1600, pos: 'left', ticks: capTicksA, size: 102, pad: 3, font: 18, tl: 7, tw: 1.5, bw: 2 }),
      y1: axis({ min: 46.9, max: 116, pos: 'right', ticks: ceTicksA, size: 64, pad: 3, font: 18, tl: 5, tw: 1.5, bw: 2 })
    }
  },
  plugins: [
    arrowsA, framePlugin(2),
    minorTicksPlugin({ x: { step: 10, len: 4, width: 1.2 }, y: { step: 100, len: 4, width: 1.2 }, y1: { step: 2.5, len: 3, width: 1.2 } }),
    legendPlugin({ labels: seriesNames, colors: seriesColors, box: 6.5, xm: 381.4, xt: 403.6, y0: 155.7, dy: 21.75, size: 17 }),
    textPlugin([
      { x: 9.5, y: 47, size: 40, baseline: 'alphabetic', parts: [['a', false]] },
      { x: 116.8, y: 69.5, size: 17, parts: [['SiO-NC Different Ratio of SiO:melamine:pitch', false]] },
      { x: 116.8, y: 92, size: 17, parts: [['0.01 \u2013 2.0 V 1000 mA g', false], ['-1', true]] },
      { x: 40, y: 219.7, size: 18, rotate: -90, align: 'center', parts: [['Specific Capacity (mAh g', false], ['-1', true], [')', false]] },
      { x: 564, y: 219.7, size: 18, rotate: -90, align: 'center', parts: [['Coulombic Efficiency (%)', false]] }
    ])
  ]
});

// ---------- panel b ----------
const curvesB = [
  [sioDisCap, sioDisV, sioChgCap, sioChgV],
  [dsioDisCap, dsioDisV, dsioChgCap, dsioChgV],
  [dncDisCap, dncDisV, dncChgCap, dncChgV],
  [sncDisCap, sncDisV, sncChgCap, sncChgV]
];
const dsB = [];
curvesB.forEach((c, i) => {
  dsB.push({ label: materialsB[i] + ' discharge', data: pairs(c[0], c[1]), showLine: true, pointRadius: 0,
    borderColor: colorsB[i], borderWidth: 1.6, tension: 0 });
  dsB.push({ label: materialsB[i] + ' charge', data: pairs(c[2], c[3]), showLine: true, pointRadius: 0,
    borderColor: colorsB[i], borderWidth: 1.6, tension: 0 });
});

new Chart(document.getElementById('chartB'), {
  type: 'scatter',
  data: { datasets: dsB },
  options: {
    responsive: false, animation: false, events: [],
    layout: { padding: { top: 53, left: 0, right: 21, bottom: 0 } },
    plugins: { legend: { display: false }, tooltip: { enabled: false } },
    scales: {
      x: axis({ min: 0, max: 2500, pos: 'bottom', ticks: capTicksB, size: 66, pad: 3, font: 18, tl: 7, tw: 1.5, bw: 2,
        title: 'Specific Capacity (mA/g)', tfont: 18, tpad: { top: 0, bottom: 5 } }),
      y: axis({ min: 0, max: 3, pos: 'left', ticks: voltTicksB, size: 129, pad: 4, font: 18, tl: 6, tw: 1.5, bw: 2,
        fmt: v => v.toFixed(1), title: 'Voltage (V)', tfont: 18, tpad: { top: 57, bottom: 0 } })
    }
  },
  plugins: [
    framePlugin(2),
    minorTicksPlugin({ x: { step: 250, len: 4, width: 1.2 }, y: { step: 0.1, len: 3, width: 1.2 } }),
    legendPlugin({ labels: materialsB, colors: colorsB, lines: colorsB, lw: [2, 2, 2, 2], x0: 387, x1: 425, xt: 430.7, y0: 77.3, dy: 22, size: 17 }),
    textPlugin([
      { x: 37, y: 46.7, size: 40, baseline: 'alphabetic', parts: [['b', false]] },
      { x: 144.5, y: 70, size: 17, parts: [['0.01 \u2013 2.0 V100mA g', false], ['-1', true]] }
    ])
  ]
});

// ---------- panel c ----------
const dsC = ceSets.map((vals, i) => ({
  label: seriesNames[i], data: toXY(ceFirstCycle, vals).filter(p => p.x <= 200),
  showLine: true, tension: 0, borderColor: lineColorsC[i], borderWidth: 1,
  borderDash: i < 2 ? [3, 2] : [],
  pointStyle: 'circle', pointRadius: 2.9, pointBorderWidth: 0, pointBackgroundColor: seriesColors[i],
  clip: { left: 4, right: 4, top: 4, bottom: 0 }, order: 4 - i
}));

new Chart(document.getElementById('chartC'), {
  type: 'scatter',
  data: { datasets: dsC },
  options: {
    responsive: false, animation: false, events: [],
    layout: { padding: { top: 58, left: 0, right: 105, bottom: 0 } },
    plugins: { legend: { display: false }, tooltip: { enabled: false } },
    scales: {
      x: axis({ min: 0, max: 200, pos: 'bottom', ticks: cycleTicksC, size: 76, pad: 8, font: 26, tl: 11, tw: 2, bw: 3,
        title: 'Cycle', tfont: 26, tlh: 1, tpad: { top: 0, bottom: 1 } }),
      y: axis({ min: 97, max: 101, pos: 'left', ticks: ceTicksC, size: 210, pad: 12, font: 26, tl: 11, tw: 2, bw: 3,
        fmt: v => v.toFixed(1), title: 'Coulombic Efficiency (%)', tfont: 29, tpad: { top: 81, bottom: 0 } })
    }
  },
  plugins: [
    refLineC, framePlugin(3),
    minorTicksPlugin({ x: { step: 10, len: 6, width: 1.5 }, y: { step: 0.1, len: 5, width: 1.5 } }),
    legendPlugin({ labels: seriesNames, colors: seriesColors, lines: legendLineC, lw: [1, 1, 2, 1.5, 1.5], dot: 3,
      x0: 765, x1: 828, xm: 796.5, xt: 836.5, y0: 214, dy: 34.8, size: 25 }),
    textPlugin([
      { x: 11, y: 50, size: 34, baseline: 'alphabetic', parts: [['c', false]] },
      { x: 226.3, y: 83.5, size: 27.3, parts: [['SiO-NC Different Ratio of SiO:melamine:pitch', false]] },
      { x: 226.3, y: 116.7, size: 27.3, parts: [['Coulombic Efficiency', false]] }
    ])
  ]
});
</script>
</body>
</html>
